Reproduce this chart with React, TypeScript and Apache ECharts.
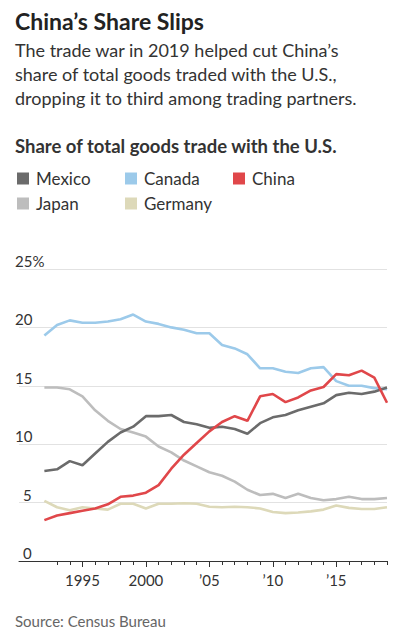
import React, { useEffect, useRef } from "react";
import * as echarts from "echarts";

const axisYears = Array.from({ length: 30 }, (_, i) => String(1990 + i));
const years = [
  1992, 1993, 1994, 1995, 1996, 1997, 1998, 1999, 2000, 2001, 2002, 2003, 2004, 2005,
  2006, 2007, 2008, 2009, 2010, 2011, 2012, 2013, 2014, 2015, 2016, 2017, 2018, 2019,
];
const mexico = [
  7.7, 7.85, 8.55, 8.2, 9.2, 10.2, 11.0, 11.5, 12.4, 12.4, 12.5, 11.9, 11.7, 11.4,
  11.5, 11.3, 10.9, 11.8, 12.3, 12.5, 12.9, 13.2, 13.5, 14.2, 14.4, 14.3, 14.5, 14.85,
];
const canada = [
  19.3, 20.2, 20.6, 20.4, 20.4, 20.5, 20.7, 21.1, 20.5, 20.3, 20.0, 19.8, 19.5, 19.5,
  18.5, 18.2, 17.7, 16.5, 16.5, 16.2, 16.1, 16.5, 16.6, 15.4, 15.0, 15.0, 14.8, 14.7,
];
const china = [
  3.5, 3.9, 4.1, 4.3, 4.5, 4.85, 5.5, 5.6, 5.85, 6.5, 7.9, 9.1, 10.1, 11.1,
  11.9, 12.4, 12.0, 14.1, 14.3, 13.6, 14.0, 14.6, 14.9, 16.0, 15.9, 16.3, 15.7, 13.55,
];
const japan = [
  14.85, 14.85, 14.7, 14.1, 12.9, 12.0, 11.3, 11.0, 10.65, 9.8, 9.3, 8.6, 8.1, 7.6,
  7.3, 6.8, 6.1, 5.65, 5.75, 5.4, 5.75, 5.4, 5.2, 5.3, 5.5, 5.3, 5.3, 5.4,
];
const germany = [
  5.15, 4.6, 4.35, 4.6, 4.5, 4.4, 4.9, 4.9, 4.5, 4.9, 4.9, 4.95, 4.9, 4.65,
  4.6, 4.65, 4.6, 4.5, 4.2, 4.1, 4.15, 4.25, 4.4, 4.75, 4.55, 4.45, 4.45, 4.6,
];
const yTicks = { min: 0, max: 25, interval: 5 };

const FONT = "Lato";
const C = {
  Mexico: "#6b6b6b",
  Canada: "#9ccaea",
  China: "#e0474a",
  Japan: "#bdbdbd",
  Germany: "#ddd9b9",
};

export default function App() {
  const ref = useRef<HTMLDivElement>(null);
  useEffect(() => {
    const chart = echarts.init(ref.current!, null, { renderer: "svg" });
    const pairs = (arr: number[]) => years.map((y, i) => [String(y), arr[i]]);
    const mk = (name: string, arr: number[]) => ({
      name,
      type: "line",
      data: pairs(arr),
      showSymbol: false,
      symbol: "none",
      lineStyle: { color: (C as any)[name], width: 2.6 },
      itemStyle: { color: (C as any)[name] },
      emphasis: { disabled: true },
    });
    const legendItem = (name: string, left: number, top: number) => ({
      data: [name],
      left,
      top,
      icon: "rect",
      itemWidth: 12,
      itemHeight: 12,
      padding: 0,
      selectedMode: false,
      textStyle: { fontFamily: FONT, fontSize: 17, color: "#333", padding: [0, 0, 0, 2] },
    });
    const isMajor = (_: number, v: string) => +v >= 1995 && +v % 5 === 0;
    const labelStyle = { fontFamily: FONT, fontSize: 15, color: "#333", lineHeight: 16 };
    chart.setOption({
      animation: false,
      textStyle: { fontFamily: FONT },
      graphic: [
        { type: "text", left: 15, top: 9, style: { text: "China’s Share Slips", fill: "#222", fontFamily: FONT, fontSize: 23, fontWeight: "bold" } },
        { type: "text", left: 15, top: 41, style: { text: "The trade war in 2019 helped cut China’s", fill: "#333", fontFamily: FONT, fontSize: 18 } },
        { type: "text", left: 15, top: 65, style: { text: "share of total goods traded with the U.S.,", fill: "#333", fontFamily: FONT, fontSize: 18 } },
        { type: "text", left: 15, top: 89, style: { text: "dropping it to third among trading partners.", fill: "#333", fontFamily: FONT, fontSize: 18 } },
        { type: "text", left: 15, top: 136, style: { text: "Share of total goods trade with the U.S.", fill: "#333", fontFamily: FONT, fontSize: 18.5, fontWeight: "bold" } },
        { type: "text", left: 15, top: 613, style: { text: "Source: Census Bureau", fill: "#666", fontFamily: FONT, fontSize: 15 } },
      ],
      legend: [
        legendItem("Mexico", 17, 170),
        legendItem("Canada", 125, 170),
        legendItem("China", 233, 170),
        legendItem("Japan", 17, 195),
        legendItem("Germany", 125, 195),
      ],
      grid: { left: 19, right: 9, top: 269, bottom: 81, containLabel: false },
      xAxis: [
        {
          type: "category",
          data: axisYears,
          boundaryGap: false,
          position: "bottom",
          axisLine: { show: true, lineStyle: { color: "#333", width: 1 } },
          axisTick: { show: true, interval: (_: number, v: string) => +v >= 1993, length: 4, lineStyle: { color: "#333" } },
          axisLabel: { show: false },
          splitLine: { show: false },
        },
        {
          type: "category",
          data: axisYears,
          boundaryGap: false,
          position: "bottom",
          axisLine: { show: false },
          axisTick: { show: true, interval: isMajor, length: 6, lineStyle: { color: "#333" } },
          axisLabel: {
            show: true,
            interval: isMajor,
            margin: 11,
            fontFamily: FONT,
            fontSize: 15,
            color: "#333",
            formatter: (v: string) => (+v < 2005 ? v : "’" + v.slice(2)),
          },
          splitLine: { show: false },
        },
      ],
      yAxis: {
        type: "value",
        min: yTicks.min,
        max: yTicks.max,
        interval: yTicks.interval,
        axisLine: { show: false },
        axisTick: { show: false },
        splitLine: { show: true, lineStyle: { color: "#e2e2e2", width: 1 } },
        axisLabel: {
          margin: 4,
          align: "left",
          verticalAlign: "bottom",
          ...labelStyle,
          formatter: (v: number) =>
            v === 25 ? "{l|25%}" : v < 10 ? "{one|" + v + "}" : "{l|" + v + "}",
          rich: {
            l: { ...labelStyle },
            one: { ...labelStyle, padding: [0, 0, 0, 8] },
          },
        },
      },
      series: [
        mk("Germany", germany),
        mk("Japan", japan),
        mk("Canada", canada),
        mk("Mexico", mexico),
        mk("China", china),
      ],
    });
    return () => chart.dispose();
  }, []);
  return <div ref={ref} style={{ position: "fixed", left: 0, top: 0, width: 396, height: 642, background: "#fff" }} />;
}
